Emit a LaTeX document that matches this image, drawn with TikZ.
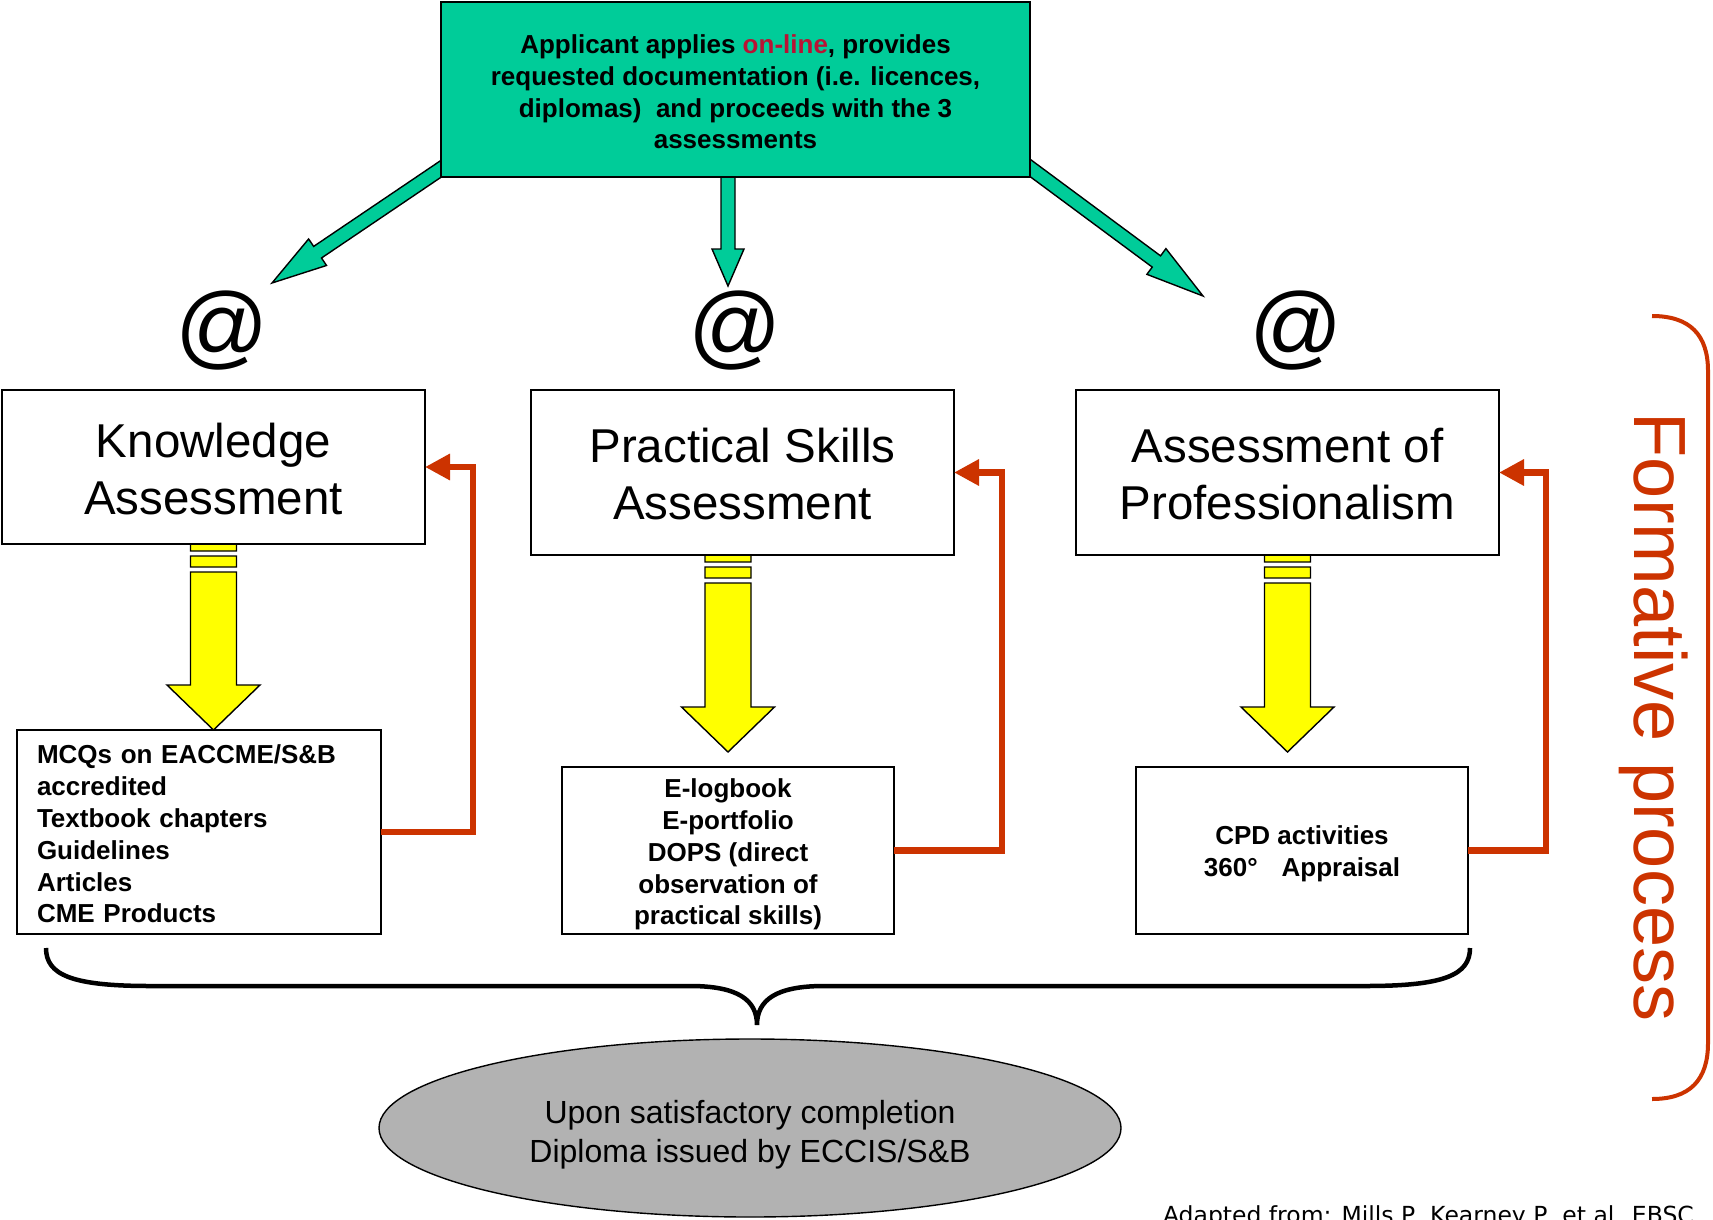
\documentclass[tikz,border=0pt]{standalone}
\usepackage{fontspec}
\setmainfont{Liberation Sans}
\newfontfamily\notefont{DejaVu Sans}
\usetikzlibrary{calc,arrows.meta,shapes.geometric}
\definecolor{tealg}{RGB}{0,204,153}
\definecolor{fbred}{RGB}{204,51,0}
\definecolor{onred}{RGB}{185,18,52}
\definecolor{ygold}{RGB}{255,255,0}
\definecolor{ovalgray}{RGB}{178,178,178}
\pgfdeclarelayer{bg}
\pgfsetlayers{bg,main}
% block arrow: from, to, half shaft, half head, head length, style
\newcommand\blockarrow[6]{%
  \coordinate (tmpH) at ($(#2)!#5!(#1)$);
  \draw[#6] ($(#1)!#3!90:(#2)$) -- ($(tmpH)!#3!90:(#2)$) -- ($(tmpH)!#4!90:(#2)$)
    -- (#2) -- ($(tmpH)!#4!-90:(#2)$) -- ($(tmpH)!#3!-90:(#2)$) -- ($(#1)!#3!-90:(#2)$) -- cycle;
}
% striped yellow arrow: top point, tip point (same x)
\newcommand\yarrow[2]{%
  \draw[yarr] let \p1=(#1), \p2=(#2) in
    (\x1-23pt,\y1) rectangle (\x1+23pt,\y1-7pt)
    (\x1-23pt,\y1-12pt) rectangle (\x1+23pt,\y1-23pt)
    (\x1-23pt,\y1-28pt) -- (\x2-23pt,\y2+45pt) -- (\x2-46.5pt,\y2+45pt) -- (\x2,\y2)
    -- (\x2+46.5pt,\y2+45pt) -- (\x2+23pt,\y2+45pt) -- (\x1+23pt,\y1-28pt) -- cycle;
}
\begin{document}
\begin{tikzpicture}[x=1pt,y=-1pt,
  every node/.style={inner sep=0pt, outer sep=0pt},
  bigbox/.style={draw=black, line width=1.6pt, fill=white, minimum width=423pt},
  bigtext/.style={align=center, font=\fontsize{47.5}{57}\selectfont},
  listbox/.style={draw=black, line width=1.6pt, fill=white},
  listtext/.style={font=\bfseries\fontsize{26}{31.8}\selectfont},
  garrow/.style={draw=black, line width=1.4pt, fill=tealg, line join=miter},
  yarr/.style={draw=black, line width=1.4pt, fill=ygold, line join=miter},
  fb/.style={draw=fbred, line width=6.5pt, line join=miter, -{Triangle[length=25pt,width=25pt]}},
  atsign/.style={font=\fontsize{92}{100}\selectfont}]

\useasboundingbox (0,0) rectangle (1713,1220);

% top box
\node[draw=black, line width=1.6pt, fill=tealg, minimum width=589pt, minimum height=175pt] (top) at (735.5,89.5) {};
\node[listtext, align=center] (toptext) at (735.5,92)
  {Applicant applies \textcolor{onred}{on-line}, provides\\
   requested documentation (i.e. licences,\\
   diplomas)\ \ and proceeds with the 3\\
   assessments};

% @ signs
\node[atsign] (at1) at (222,331) {@};
\node[atsign] (at2) at (735,331) {@};
\node[atsign] (at3) at (1296,331) {@};

% assessment boxes
\node[bigbox, minimum height=154pt] (know) at (213.5,467) {};
\node[bigtext] (knowt) at (213.5,469) {Knowledge\\Assessment};
\node[bigbox, minimum height=165pt] (prac) at (742.5,472.5) {};
\node[bigtext] (pract) at (742.5,474) {Practical Skills\\Assessment};
\node[bigbox, minimum height=165pt] (prof) at (1287.5,472.5) {};
\node[bigtext] (proft) at (1287.5,474) {Assessment of\\Professionalism};

% lower boxes
\node[listbox, minimum width=364pt, minimum height=204pt] (mcq) at (199,832) {};
\node[listtext, text width=324pt, align=left] (mcqt) at (199,834)
  {MCQs on EACCME/S\&B\\accredited\\Textbook chapters\\Guidelines\\Articles\\CME Products};
\node[listbox, minimum width=332pt, minimum height=167pt] (elog) at (728,850.5) {};
\node[listtext, align=center] (elogt) at (728,854.5)
  {E-logbook\\E-portfolio\\DOPS (direct\\observation of\\practical skills)};
\node[listbox, minimum width=332pt, minimum height=167pt] (cpd) at (1302,850.5) {};
\node[listtext, align=center] (cpdt) at (1302,854)
  {CPD activities\\360°\hspace{24pt}Appraisal};

% final oval
\node[ellipse, draw=black, line width=1.4pt, fill=ovalgray, minimum width=742pt, minimum height=178pt] (oval) at (750,1128) {};
\node[align=center, font=\fontsize{32}{39}\selectfont] (ovalt) at (750,1134.5)
  {Upon satisfactory completion\\Diploma issued by ECCIS/S\&B};

% arrows behind boxes
\begin{pgfonlayer}{bg}
  \coordinate (gls) at (457,158);  \coordinate (glt) at (272,283);
  \coordinate (gcs) at (728,170);  \coordinate (gct) at (728,286);
  \coordinate (grs) at (1014,156); \coordinate (grt) at (1203,296);
  \blockarrow{gls}{glt}{7pt}{16pt}{55pt}{garrow}
  \blockarrow{gcs}{gct}{7pt}{16pt}{37pt}{garrow}
  \blockarrow{grs}{grt}{7pt}{16pt}{58pt}{garrow}
  \yarrow{know.south}{know.south |- mcq.north}
  \yarrow{prac.south -| elog.north}{$(elog.north)+(0,-15)$}
  \yarrow{prof.south}{$(prof.south |- cpd.north)+(0,-15)$}
\end{pgfonlayer}

% feedback arrows
\draw[fb] (mcq.east) -- ++(92,0) |- (know.east);
\draw[fb] (elog.east) -- ++(108,0) |- (prac.east);
\draw[fb] (cpd.east) -- ++(78,0) |- (prof.east);

% brace
\draw[line width=4.5pt] (46,948) .. controls (46,975) and (72,986) .. (150,986) -- (690,986)
  .. controls (738,986) and (757,1000) .. (757,1025)
  .. controls (757,1000) and (776,986) .. (824,986) -- (1366,986)
  .. controls (1444,986) and (1470,975) .. (1470,948);

% formative bracket and label
\draw[fbred, line width=4pt] (1652,316) .. controls (1690,316) and (1708,335) .. (1708,371)
  -- (1708,1043) .. controls (1708,1080) and (1690,1099) .. (1652,1099);
\node[rotate=-90, text=fbred, font=\fontsize{74}{80}\selectfont] (form) at (1654,717) {Formative process};

% source note
\node[anchor=base west, font=\notefont\fontsize{23.5}{28}\selectfont] (src) at (1163,1223)
  {Adapted from: Mills P, Kearney P, et al. EBSC..};
\end{tikzpicture}
\end{document}
